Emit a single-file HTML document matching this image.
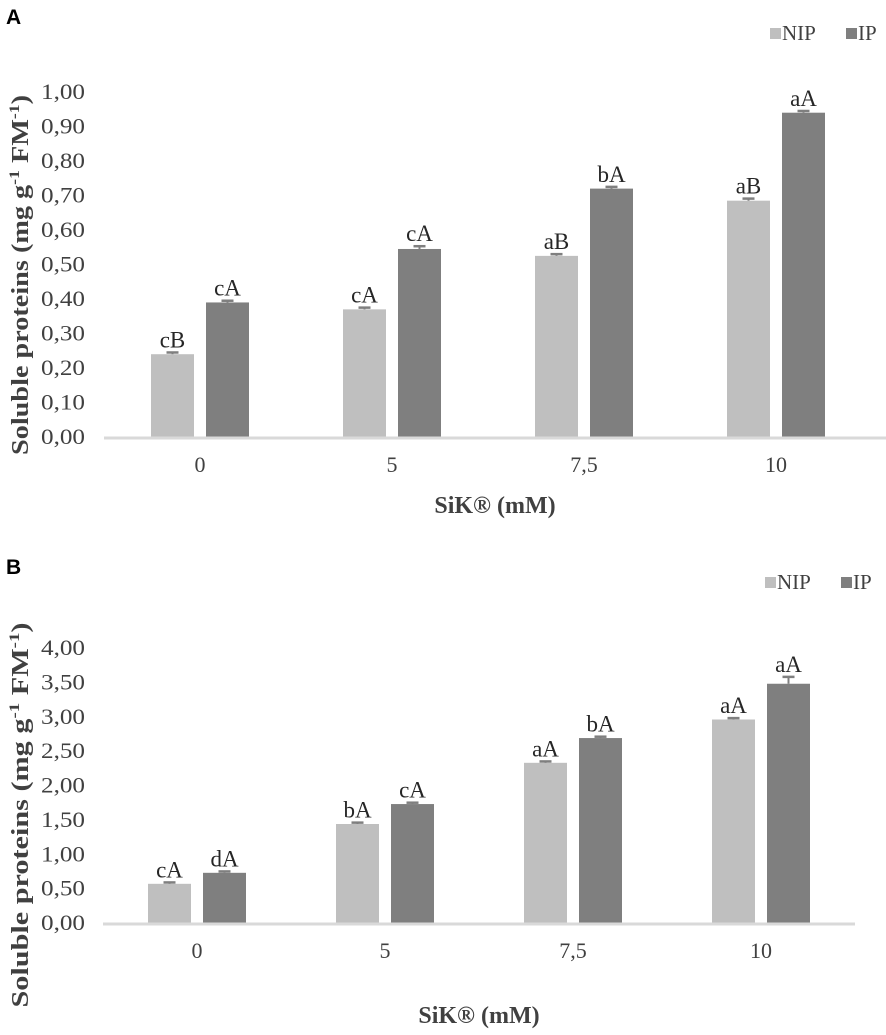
<!DOCTYPE html>
<html><head><meta charset="utf-8"><style>
html,body{margin:0;padding:0;background:#fff;overflow:hidden;}
svg{display:block;font-family:"Liberation Serif",serif;}
</style></head><body>
<svg id="chart" width="886" height="1035" viewBox="0 0 886 1035" xmlns="http://www.w3.org/2000/svg"></svg>
<script>
const categories = ["0", "5", "7,5", "10"];
const seriesNames = ["NIP", "IP"];
const aNIP = [0.24, 0.37, 0.525, 0.685];
const aIP = [0.39, 0.545, 0.72, 0.94];
const aNIPerr = [0.005, 0.005, 0.005, 0.006];
const aIPerr = [0.005, 0.008, 0.005, 0.005];
const aNIPlab = ["cB", "cA", "aB", "aB"];
const aIPlab = ["cA", "cA", "bA", "aA"];
const aTicks = [0, 0.1, 0.2, 0.3, 0.4, 0.5, 0.6, 0.7, 0.8, 0.9, 1.0];
const aTickLabels = ["0,00","0,10","0,20","0,30","0,40","0,50","0,60","0,70","0,80","0,90","1,00"];
const bNIP = [0.57, 1.44, 2.33, 2.96];
const bIP = [0.73, 1.73, 2.69, 3.48];
const bNIPerr = [0.02, 0.02, 0.02, 0.02];
const bIPerr = [0.02, 0.02, 0.02, 0.1];
const bNIPlab = ["cA", "bA", "aA", "aA"];
const bIPlab = ["dA", "cA", "bA", "aA"];
const bTicks = [0, 0.5, 1, 1.5, 2, 2.5, 3, 3.5, 4];
const bTickLabels = ["0,00","0,50","1,00","1,50","2,00","2,50","3,00","3,50","4,00"];

const svg = document.getElementById('chart');
const NS = "http://www.w3.org/2000/svg";
function mk(tag, attrs, parent, text){
  const e = document.createElementNS(NS, tag);
  for (const k in attrs) e.setAttribute(k, attrs[k]);
  if (text !== undefined) e.textContent = text;
  parent.appendChild(e);
  return e;
}
const COL = {NIP:"#bfbfbf", IP:"#7f7f7f"};

function panel(cfg){
  const g = mk('g', {}, svg);
  
  
  const y = v => cfg.y0 - (v - cfg.min) / (cfg.max - cfg.min) * (cfg.y0 - cfg.y1);
  const band = (cfg.x1 - cfg.x0) / categories.length;
  const xc = i => cfg.x0 + band * (i + 0.5);
  const pl = mk('text', {x: 6, y: cfg.letterY, 'font-family': '"Liberation Sans",sans-serif', 'font-weight': 'bold', 'font-size': 21, fill: '#000'}, g, cfg.letter);
  
  
  cfg.ticks.forEach((t, i) => {
    const tl = mk('text', {x: 85, y: y(t) + 7, 'text-anchor': 'end', 'font-size': 22, fill: '#404040', textLength: 44, lengthAdjust: 'spacingAndGlyphs'}, g, cfg.tickLabels[i]);
    
    
  });
  const bw = 43, gap = 12;
  categories.forEach((c, i) => {
    [[cfg.nip, cfg.nipErr, cfg.nipLab, 'NIP', -1], [cfg.ip, cfg.ipErr, cfg.ipLab, 'IP', 1]].forEach(s => {
      const v = s[0][i], err = s[1][i];
      const bx = s[4] < 0 ? xc(i) - gap / 2 - bw : xc(i) + gap / 2;
      const r = mk('rect', {x: bx, y: y(v), width: bw, height: y(cfg.min) - y(v), fill: COL[s[3]]}, g);
      
      
      const ex = bx + bw / 2;
      const e1 = mk('line', {x1: ex, x2: ex, y1: y(v), y2: y(v + err), stroke: '#7f7f7f', 'stroke-width': 2}, g);
      
      
      const e2 = mk('line', {x1: ex - 6, x2: ex + 6, y1: y(v + err), y2: y(v + err), stroke: '#7f7f7f', 'stroke-width': 2.5}, g);
      
      
      const lt = mk('text', {x: ex, y: y(v + err) - 5, 'text-anchor': 'middle', 'font-size': 23, fill: '#262626'}, g, s[2][i]);
      
      
    });
    const xl = mk('text', {x: xc(i), y: cfg.y0 + 35, 'text-anchor': 'middle', 'font-size': 22, fill: '#404040'}, g, c);
    
    
  });
  const ax = mk('line', {x1: cfg.x0, x2: cfg.axisEnd, y1: cfg.y0 + 1, y2: cfg.y0 + 1, stroke: '#d9d9d9', 'stroke-width': 3}, g);
  
  
  const xt = mk('text', {x: (cfg.x0 + cfg.axisEnd) / 2, y: cfg.xTitleY, 'text-anchor': 'middle', 'font-size': 24, 'font-weight': 'bold', fill: '#404040'}, g, 'SiK® (mM)');
  
  
  const yt = mk('text', {x: 0, y: 0, transform: `translate(28 ${cfg.yTitleY}) rotate(-90)`, 'text-anchor': 'middle', 'font-size': 24, 'font-weight': 'bold', fill: '#404040', textLength: cfg.yTitleLen, lengthAdjust: 'spacingAndGlyphs'}, g);
  
  
  yt.appendChild(document.createTextNode('Soluble proteins (mg g'));
  mk('tspan', {dy: -9, 'font-size': 15}, yt, '-1');
  mk('tspan', {dy: 9}, yt, ' FM');
  mk('tspan', {dy: -9, 'font-size': 15}, yt, '-1');
  mk('tspan', {dy: 9}, yt, ')');
  const lg = mk('g', {}, g);
  
  
  const lx = cfg.legendX, ly = cfg.legendY;
  const l1 = mk('rect', {x: lx, y: ly - 12, width: 11, height: 11, fill: COL.NIP}, lg);
  
  
  const t1 = mk('text', {x: lx + 12, y: ly, 'font-size': 21, fill: '#404040'}, lg, seriesNames[0]);
  
  
  const l2 = mk('rect', {x: lx + 76, y: ly - 12, width: 11, height: 11, fill: COL.IP}, lg);
  
  
  const t2 = mk('text', {x: lx + 88, y: ly, 'font-size': 21, fill: '#404040'}, lg, seriesNames[1]);
  
  
}

panel({name:'panel-a', letter:'A', letterY:24, min:0, max:1, y0:437, y1:92, x0:104, x1:872, axisEnd:886,
  ticks:aTicks, tickLabels:aTickLabels, nip:aNIP, ip:aIP, nipErr:aNIPerr, ipErr:aIPerr, nipLab:aNIPlab, ipLab:aIPlab,
  xTitleY:513, yTitleY:275, yTitleLen:360, legendX:770, legendY:40});
panel({name:'panel-b', letter:'B', letterY:574, min:0, max:4, y0:923, y1:648, x0:103, x1:855, axisEnd:855,
  ticks:bTicks, tickLabels:bTickLabels, nip:bNIP, ip:bIP, nipErr:bNIPerr, ipErr:bIPerr, nipLab:bNIPlab, ipLab:bIPlab,
  xTitleY:1023, yTitleY:815, yTitleLen:385, legendX:765, legendY:589});
</script>
</body></html>
